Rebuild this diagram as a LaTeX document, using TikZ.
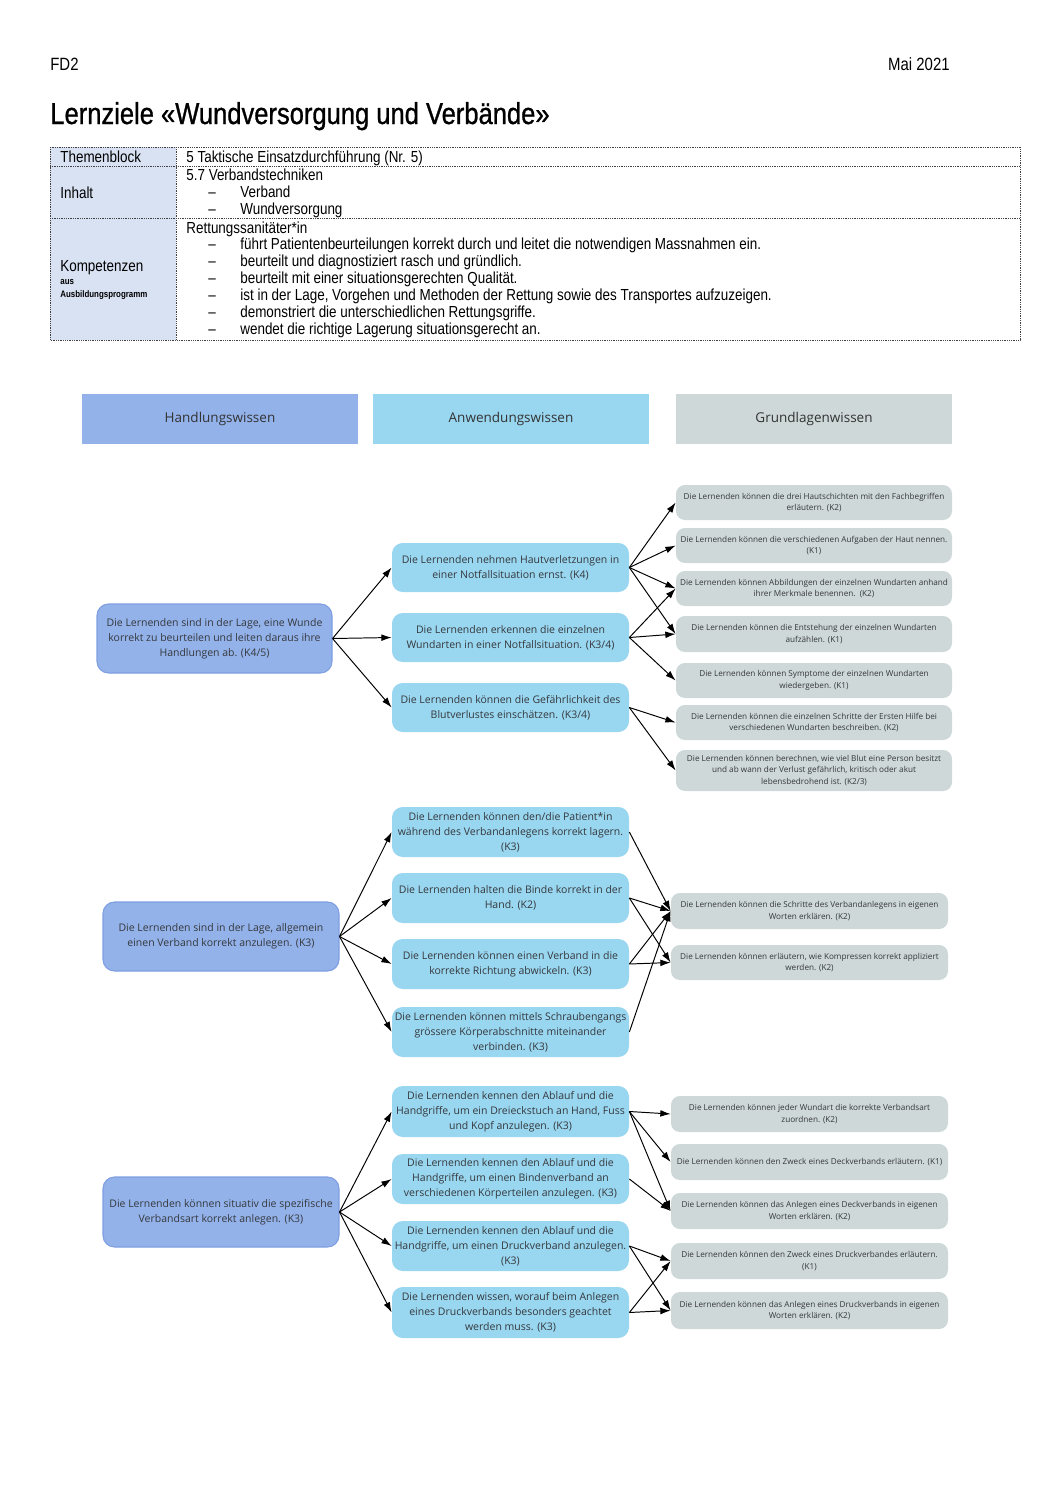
\documentclass[tikz,border=0pt]{standalone}
\usepackage{fontspec}
\setmainfont{Open Sans}
\newfontfamily\dinfont[FakeStretch=0.84]{Liberation Sans}
\newfontfamily\titlefont[FakeStretch=0.845, FakeBold=0.9]{Liberation Sans}
\usetikzlibrary{arrows.meta}
\definecolor{hcol}{HTML}{93B2EA}
\definecolor{hdraw}{HTML}{7E9EE2}
\definecolor{acol}{HTML}{99D6F0}
\definecolor{gcol}{HTML}{CED8D8}
\definecolor{tabfill}{HTML}{D9E2F3}
\definecolor{txt}{HTML}{35383C}
\def\u{0.5625pt}
\tikzset{
  tabline/.style={draw=black!75, line width=0.5pt, dash pattern=on 0.5pt off 0.5pt},
  tabtxt/.style={inner sep=0pt, anchor=base west, font=\dinfont\fontsize{9}{10}\selectfont},
  colhead/.style={rectangle, fill=#1, inner sep=0pt, minimum width=276*\u, minimum height=50*\u, text=black!80, font=\fontsize{7.6}{10}\selectfont},
  lnode/.style={rectangle, rounded corners=6.5pt, fill=hcol, draw=hdraw, line width=0.6pt, inner sep=0pt, align=center, text=txt, font=\fontsize{5.9}{8.4}\selectfont},
  mnode/.style={rectangle, rounded corners=6pt, fill=acol, inner sep=0pt, align=center, minimum width=237*\u, text=txt, font=\fontsize{5.9}{8.4}\selectfont},
  rnode/.style={rectangle, rounded corners=5pt, fill=gcol, inner sep=0pt, align=center, text=txt, font=\fontsize{4.6}{6.5}\selectfont},
  arr/.style={-{Latex[length=5.8pt,width=3.8pt]}, line width=0.55pt, black},
}
\begin{document}
\begin{tikzpicture}[x=0.5625pt, y=-0.5625pt]
\useasboundingbox (0,0) rectangle (1058,1497);
% header
\node[tabtxt, font=\dinfont\fontsize{10}{12}\selectfont] (fd) at (50,70) {FD2};
\node[inner sep=0pt, anchor=base east, font=\dinfont\fontsize{10}{12}\selectfont] (mai) at (950,70) {Mai 2021};
\node[inner sep=0pt, anchor=base west, font=\titlefont\fontsize{17}{20}\selectfont] (title) at (50,124) {Lernziele «Wundversorgung und Verbände»};
% table
\fill[tabfill] (50,147) rectangle (176,340);
\draw[tabline] (50,147) rectangle (1020,340);
\draw[tabline] (176,147) -- (176,340);
\draw[tabline] (50,166) -- (1020,166);
\draw[tabline] (50,218) -- (1020,218);
\node[tabtxt] (t1) at (60,162) {Themenblock};
\node[tabtxt] (t2) at (186,162) {5 Taktische Einsatzdurchführung (Nr. 5)};
\node[tabtxt] (t3) at (60,198) {Inhalt};
\node[tabtxt] (t4) at (186,180) {5.7 Verbandstechniken};
\node[tabtxt] (t5) at (208,197) {–};
\node[tabtxt] (t6) at (240,197) {Verband};
\node[tabtxt] (t7) at (208,214) {–};
\node[tabtxt] (t8) at (240,214) {Wundversorgung};
\node[tabtxt] (t9) at (60,271) {Kompetenzen};
\node[tabtxt, font=\dinfont\bfseries\fontsize{5.3}{6}\selectfont] (t10) at (60,284.5) {aus};
\node[tabtxt, font=\dinfont\bfseries\fontsize{5.3}{6}\selectfont] (t11) at (60,297) {Ausbildungsprogramm};
\node[tabtxt] (k0) at (186,233) {Rettungssanitäter*in};
\foreach \yy/\tt [count=\i] in {249.5/{führt Patientenbeurteilungen korrekt durch und leitet die notwendigen Massnahmen ein.},
  266.5/{beurteilt und diagnostiziert rasch und gründlich.},
  283.5/{beurteilt mit einer situationsgerechten Qualität.},
  300.5/{ist in der Lage, Vorgehen und Methoden der Rettung sowie des Transportes aufzuzeigen.},
  317.5/{demonstriert die unterschiedlichen Rettungsgriffe.},
  334.5/{wendet die richtige Lagerung situationsgerecht an.}}{
  \node[tabtxt] (kd\i) at (208,\yy) {–};
  \node[tabtxt] (k\i) at (240,\yy) {\tt};
}
% column headers
\node[colhead=hcol] (ch1) at (220,419) {Handlungswissen};
\node[colhead=acol] (ch2) at (511,419) {Anwendungswissen};
\node[colhead=gcol] (ch3) at (814,419) {Grundlagenwissen};
% ---------- section 1
\node[lnode, minimum width=235*\u, minimum height=69*\u] (L1) at (214.5,638.5) {Die Lernenden sind in der Lage, eine Wunde\\korrekt zu beurteilen und leiten daraus ihre\\Handlungen ab. (K4/5)};
\node[mnode, minimum height=49*\u] (A1) at (510.5,567.5) {Die Lernenden nehmen Hautverletzungen in\\einer Notfallsituation ernst. (K4)};
\node[mnode, minimum height=49*\u] (A2) at (510.5,637.5) {Die Lernenden erkennen die einzelnen\\Wundarten in einer Notfallsituation. (K3/4)};
\node[mnode, minimum height=49*\u] (A3) at (510.5,707.5) {Die Lernenden können die Gefährlichkeit des\\Blutverlustes einschätzen. (K3/4)};
\node[rnode, minimum width=276*\u, minimum height=35*\u] (G1) at (814,502.5) {Die Lernenden können die drei Hautschichten mit den Fachbegriffen\\erläutern. (K2)};
\node[rnode, minimum width=276*\u, minimum height=35*\u] (G2) at (814,545.5) {Die Lernenden können die verschiedenen Aufgaben der Haut nennen.\\(K1)};
\node[rnode, minimum width=276*\u, minimum height=35*\u] (G3) at (814,588.5) {Die Lernenden können Abbildungen der einzelnen Wundarten anhand\\ihrer Merkmale benennen.~~(K2)};
\node[rnode, minimum width=276*\u, minimum height=36*\u] (G4) at (814,634) {Die Lernenden können die Entstehung der einzelnen Wundarten\\aufzählen. (K1)};
\node[rnode, minimum width=276*\u, minimum height=35*\u] (G5) at (814,680.5) {Die Lernenden können Symptome der einzelnen Wundarten\\wiedergeben. (K1)};
\node[rnode, minimum width=276*\u, minimum height=35*\u] (G6) at (814,722.5) {Die Lernenden können die einzelnen Schritte der Ersten Hilfe bei\\verschiedenen Wundarten beschreiben. (K2)};
\node[rnode, minimum width=276*\u, minimum height=41*\u] (G7) at (814,770.5) {Die Lernenden können berechnen, wie viel Blut eine Person besitzt\\und ab wann der Verlust gefährlich, kritisch oder akut\\lebensbedrohend ist. (K2/3)};
\foreach \t in {A1,A2,A3} \draw[arr] (L1.east) -- (\t.west);
\foreach \t in {G1,G2,G3,G4} \draw[arr] (A1.east) -- (\t.west);
\foreach \t in {G3,G4,G5} \draw[arr] (A2.east) -- (\t.west);
\foreach \t in {G6,G7} \draw[arr] (A3.east) -- (\t.west);
% ---------- section 2
\node[lnode, minimum width=236*\u, minimum height=69*\u] (L2) at (221,936.5) {Die Lernenden sind in der Lage, allgemein\\einen Verband korrekt anzulegen. (K3)};
\node[mnode, minimum height=50*\u] (B1) at (510.5,832) {Die Lernenden können den/die Patient*in\\während des Verbandanlegens korrekt lagern.\\(K3)};
\node[mnode, minimum height=50*\u] (B2) at (510.5,898) {Die Lernenden halten die Binde korrekt in der\\Hand. (K2)};
\node[mnode, minimum height=50*\u] (B3) at (510.5,964) {Die Lernenden können einen Verband in die\\korrekte Richtung abwickeln. (K3)};
\node[mnode, minimum height=50*\u] (B4) at (510.5,1032) {Die Lernenden können mittels Schraubengangs\\grössere Körperabschnitte miteinander\\verbinden. (K3)};
\node[rnode, minimum width=277*\u, minimum height=36*\u] (H1) at (809.5,911) {Die Lernenden können die Schritte des Verbandanlegens in eigenen\\Worten erklären. (K2)};
\node[rnode, minimum width=277*\u, minimum height=35*\u] (H2) at (809.5,962.5) {Die Lernenden können erläutern, wie Kompressen korrekt appliziert\\werden. (K2)};
\foreach \t in {B1,B2,B3,B4} \draw[arr] (L2.east) -- (\t.west);
\draw[arr] (B1.east) -- (H1.west);
\foreach \t in {H1,H2} \draw[arr] (B2.east) -- (\t.west);
\foreach \t in {H1,H2} \draw[arr] (B3.east) -- (\t.west);
\draw[arr] (B4.east) -- (H1.west);
% ---------- section 3
\node[lnode, minimum width=236*\u, minimum height=70*\u] (L3) at (221,1212) {Die Lernenden können situativ die spezifische\\Verbandsart korrekt anlegen. (K3)};
\node[mnode, minimum height=51*\u] (C1) at (510.5,1111.5) {Die Lernenden kennen den Ablauf und die\\Handgriffe, um ein Dreieckstuch an Hand, Fuss\\und Kopf anzulegen. (K3)};
\node[mnode, minimum height=50*\u] (C2) at (510.5,1179) {Die Lernenden kennen den Ablauf und die\\Handgriffe, um einen Bindenverband an\\verschiedenen Körperteilen anzulegen. (K3)};
\node[mnode, minimum height=50*\u] (C3) at (510.5,1246) {Die Lernenden kennen den Ablauf und die\\Handgriffe, um einen Druckverband anzulegen.\\(K3)};
\node[mnode, minimum height=51*\u] (C4) at (510.5,1312.5) {Die Lernenden wissen, worauf beim Anlegen\\eines Druckverbands besonders geachtet\\werden muss. (K3)};
\node[rnode, minimum width=277*\u, minimum height=36*\u] (J1) at (809.5,1114) {Die Lernenden können jeder Wundart die korrekte Verbandsart\\zuordnen. (K2)};
\node[rnode, minimum width=277*\u, minimum height=36*\u] (J2) at (809.5,1162) {Die Lernenden können den Zweck eines Deckverbands erläutern. (K1)};
\node[rnode, minimum width=277*\u, minimum height=36*\u] (J3) at (809.5,1211) {Die Lernenden können das Anlegen eines Deckverbands in eigenen\\Worten erklären. (K2)};
\node[rnode, minimum width=277*\u, minimum height=36*\u] (J4) at (809.5,1261) {Die Lernenden können den Zweck eines Druckverbandes erläutern.\\(K1)};
\node[rnode, minimum width=277*\u, minimum height=37*\u] (J5) at (809.5,1310.5) {Die Lernenden können das Anlegen eines Druckverbands in eigenen\\Worten erklären. (K2)};
\foreach \t in {C1,C2,C3,C4} \draw[arr] (L3.east) -- (\t.west);
\foreach \t in {J1,J2,J3} \draw[arr] (C1.east) -- (\t.west);
\draw[arr] (C2.east) -- (J3.west);
\foreach \t in {J4,J5} \draw[arr] (C3.east) -- (\t.west);
\foreach \t in {J4,J5} \draw[arr] (C4.east) -- (\t.west);
\end{tikzpicture}
\end{document}
